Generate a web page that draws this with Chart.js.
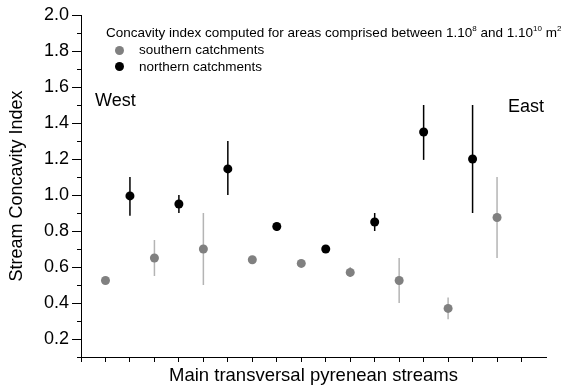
<!DOCTYPE html>
<html>
<head>
<meta charset="utf-8">
<script src="https://cdn.jsdelivr.net/npm/chart.js@4.4.1/dist/chart.umd.min.js"></script>
<style>
  html, body { margin: 0; padding: 0; background: #fff; }
  #wrap { position: relative; width: 568px; height: 387px; font-family: Arial, 'Liberation Sans', sans-serif; color: #000; }
  #chart { position: absolute; left: 0; top: 0; }
  .note { position: absolute; white-space: nowrap; }
  .legend { font-size: 13.5px; line-height: 16px; }
  .sup { font-size: 8px; position: relative; top: -6px; }
  .dot { position: absolute; width: 9px; height: 9px; border-radius: 50%; }
  .side { font-size: 18px; line-height: 20px; }
</style>
</head>
<body>
<div id="wrap">
  <canvas id="chart" width="568" height="387"></canvas>

  <div class="note legend" style="left:106px; top:25px;">Concavity index computed for areas comprised between 1.10<span class="sup">8</span> and 1.10<span class="sup">10</span> m<span class="sup">2</span></div>
  <div class="dot" style="left:115px; top:45.5px; background:#808080;"></div>
  <div class="note legend" style="left:139px; top:42px;">southern catchments</div>
  <div class="dot" style="left:115px; top:62px; background:#000;"></div>
  <div class="note legend" style="left:139px; top:58.5px;">northern catchments</div>

  <div class="note side" style="left:95px; top:90px;">West</div>
  <div class="note side" style="left:508px; top:96px;">East</div>
</div>

<script>
// --- data: stream position along the range, concavity index and its range ---
const southX    = [1, 3, 5, 7, 9, 11, 13, 15, 17];
const southY    = [0.525, 0.65, 0.70, 0.64, 0.62, 0.57, 0.525, 0.37, 0.875];
const southLow  = [0.52, 0.55, 0.50, 0.64, 0.62, 0.545, 0.40, 0.31, 0.65];
const southHigh = [0.53, 0.75, 0.90, 0.64, 0.62, 0.60, 0.65, 0.43, 1.10];

const northX    = [2, 4, 6, 8, 10, 12, 14, 16];
const northY    = [0.995, 0.95, 1.145, 0.825, 0.70, 0.85, 1.35, 1.20];
const northLow  = [0.885, 0.90, 1.00, 0.80, 0.70, 0.80, 1.195, 0.90];
const northHigh = [1.10, 1.00, 1.30, 0.845, 0.70, 0.90, 1.50, 1.50];

const xTickValues = [0, 1, 2, 3, 4, 5, 6, 7, 8, 9, 10, 11, 12, 13, 14, 15, 16, 17, 18];
const yTickLabels = [0.2, 0.4, 0.6, 0.8, 1.0, 1.2, 1.4, 1.6, 1.8, 2.0];
const yMinorTicks = [0.1, 0.3, 0.5, 0.7, 0.9, 1.1, 1.3, 1.5, 1.7, 1.9];

const FONT = "Arial, 'Liberation Sans', sans-serif";

function points(xs, ys, lows, highs) {
    return xs.map((x, i) => ({ x, y: ys[i], lo: lows[i], hi: highs[i] }));
}

// vertical error bars, drawn under the markers
const errorBars = {
    id: 'errorBars',
    beforeDatasetsDraw(chart) {
        const { ctx, scales: { x, y } } = chart;
        chart.data.datasets.forEach(ds => {
            ctx.save();
            ctx.strokeStyle = ds.barColor;
            ctx.lineWidth = 1.5;
            ds.data.forEach(p => {
                if (p.hi - p.lo <= 0) return;
                const px = x.getPixelForValue(p.x);
                ctx.beginPath();
                ctx.moveTo(px, y.getPixelForValue(p.lo));
                ctx.lineTo(px, y.getPixelForValue(p.hi));
                ctx.stroke();
            });
            ctx.restore();
        });
    }
};

// short minor ticks between the labelled ones
const minorTicks = {
    id: 'minorTicks',
    afterDraw(chart) {
        const { ctx, scales: { y } } = chart;
        const left = chart.chartArea.left;
        ctx.save();
        ctx.strokeStyle = '#000';
        ctx.lineWidth = 1;
        yMinorTicks.forEach(v => {
            const py = Math.round(y.getPixelForValue(v)) + 0.5;
            ctx.beginPath();
            ctx.moveTo(left - 4, py);
            ctx.lineTo(left, py);
            ctx.stroke();
        });
        ctx.restore();
    }
};

new Chart(document.getElementById('chart').getContext('2d'), {
    type: 'scatter',
    data: {
        datasets: [
            {
                label: 'southern catchments',
                data: points(southX, southY, southLow, southHigh),
                backgroundColor: '#808080',
                borderColor: '#808080',
                borderWidth: 0,
                pointRadius: 4.5,
                barColor: '#b4b4b4'
            },
            {
                label: 'northern catchments',
                data: points(northX, northY, northLow, northHigh),
                backgroundColor: '#000',
                borderColor: '#000',
                borderWidth: 0,
                pointRadius: 4.5,
                barColor: '#000'
            }
        ]
    },
    options: {
        responsive: false,
        devicePixelRatio: 1,
        animation: false,
        layout: { padding: { left: 0, top: 15, right: 22, bottom: 0 } },
        plugins: {
            legend: { display: false },
            tooltip: { enabled: false }
        },
        scales: {
            x: {
                type: 'linear',
                min: 0,
                max: 19,
                afterBuildTicks: s => { s.ticks = xTickValues.map(v => ({ value: v })); },
                afterFit: s => { s.height = 30; },
                ticks: { callback: () => '', padding: 0 },
                grid: { drawOnChartArea: false, drawTicks: true, tickLength: 5, color: '#000' },
                border: { display: true, color: '#000', width: 1 },
                title: {
                    display: true,
                    text: 'Main transversal pyrenean streams',
                    color: '#000',
                    font: { family: FONT, size: 18.5 },
                    padding: { top: 0, bottom: 0 }
                }
            },
            y: {
                min: 0.1,
                max: 2.0,
                afterBuildTicks: s => { s.ticks = yTickLabels.map(v => ({ value: v })); },
                afterFit: s => { s.width = 81; },
                ticks: {
                    color: '#000',
                    font: { family: FONT, size: 18 },
                    padding: 3,
                    callback: v => v.toFixed(1)
                },
                grid: { drawOnChartArea: false, drawTicks: true, tickLength: 9, color: '#000' },
                border: { display: true, color: '#000', width: 1 },
                title: {
                    display: true,
                    text: 'Stream Concavity Index',
                    color: '#000',
                    font: { family: FONT, size: 18 },
                    padding: { top: 6, bottom: 0 }
                }
            }
        }
    },
    plugins: [errorBars, minorTicks]
});
</script>
</body>
</html>
